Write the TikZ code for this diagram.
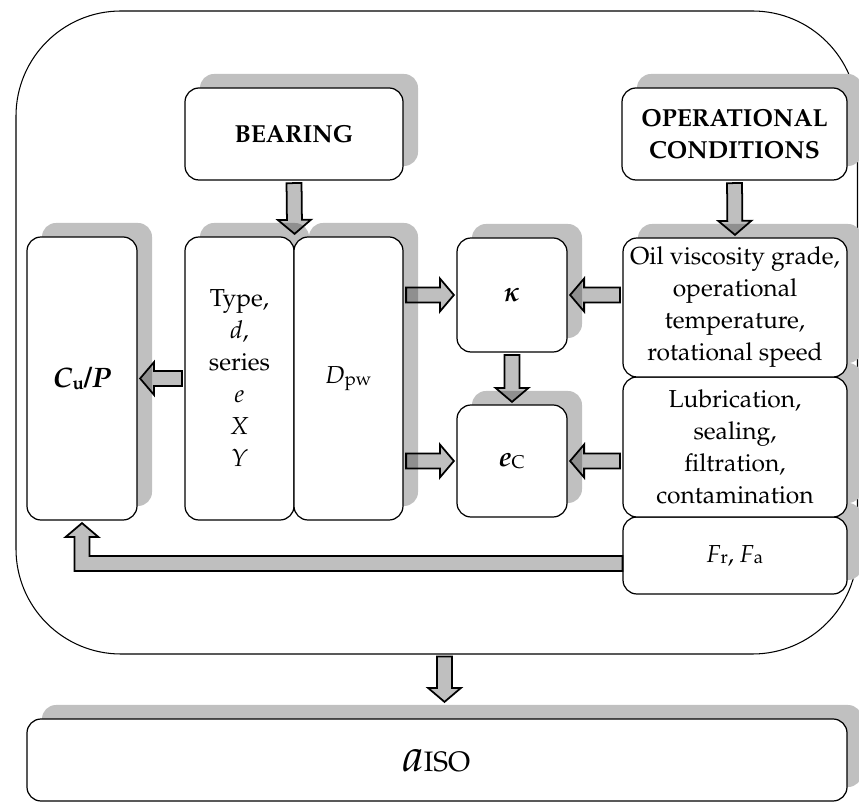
\documentclass[tikz,border=0pt]{standalone}
\usepackage[T1]{fontenc}
\usepackage{mathpazo}
\usepackage{bm}
\usetikzlibrary{calc,shadows}
\definecolor{Ink}{HTML}{000000}
\definecolor{ShadowGray}{HTML}{C0C0C0}
\newcommand{\bodyfont}{\fontsize{14}{18.2}\selectfont}
\newcommand{\lowsub}[1]{\raisebox{-1pt}{\fontsize{10.5}{11}\selectfont #1}}
\newcommand{\shaftw}{0.15cm}
\newcommand{\headw}{0.33cm}
\newcommand{\headl}{0.28cm}
\newcommand{\agap}{0.05cm}
\newcommand{\blockarrow}[2]{%
\coordinate (ba-a) at (#1);\coordinate (ba-b) at (#2);
\coordinate (ba-s) at ($(ba-a)!\agap!(ba-b)$);\coordinate (ba-t) at ($(ba-b)!\agap!(ba-a)$);
\coordinate (ba-h) at ($(ba-t)!\headl!(ba-s)$);
\draw[fatarrow] ($(ba-s)!\shaftw!90:(ba-t)$)--($(ba-h)!\shaftw!-90:(ba-s)$)--($(ba-h)!\headw!-90:(ba-s)$)--(ba-t)--($(ba-h)!\headw!90:(ba-s)$)--($(ba-h)!\shaftw!90:(ba-s)$)--($(ba-s)!\shaftw!-90:(ba-t)$)--cycle;}

\begin{document}
\begin{tikzpicture}[x=1cm,y=1cm,
box/.style={draw=Ink,fill=white,rounded corners=0.28cm,line width=0.7pt,align=center,inner sep=0pt,font=\bodyfont,general shadow={fill=ShadowGray,shadow xshift=0.3cm,shadow yshift=0.28cm}},
fatarrow/.style={draw=Ink,fill=black,fill opacity=0.25,line width=1pt,line join=miter}]
\fill[white] (0,0) rectangle (17.18,16.08);
\useasboundingbox (0,0) rectangle (17.18,16.08);
\draw[Ink,line width=0.6pt] (2.42,15.86) arc[start angle=90,end angle=180,radius=2.1] -- (0.32,5.1) arc[start angle=180,end angle=270,radius=2.1] -- (15.05,3.0) arc[start angle=270,end angle=360,radius=2.1] -- (17.15,13.76) arc[start angle=0,end angle=90,radius=2.1] -- cycle;
\coordinate (framebottom) at (8.735,3.0);
\node[box,minimum width=4.36cm,minimum height=1.84cm] (bearing) at (5.88,13.40) {\textbf{BEARING}};
\node[box,minimum width=4.50cm,minimum height=1.84cm] (oper) at (14.69,13.40) {\textbf{OPERATIONAL}\\\textbf{CONDITIONS}};
\node[box,minimum width=2.20cm,minimum height=5.66cm] (cup) at (1.64,8.51) {\fontsize{16}{18}\selectfont\textbf{\textit{C}}\lowsub{\textbf{u}}\textbf{/}\textbf{\textit{P}}};
\node[box,minimum width=2.18cm,minimum height=5.66cm] (type) at (4.79,8.51) {Type,\\\textit{d},\\series\\\textit{e}\\\textit{X}\\\textit{Y}};
\node[box,minimum width=2.18cm,minimum height=5.66cm] (dpw) at (6.97,8.51) {\textit{D}\lowsub{pw}};
\node[box,minimum width=2.20cm,minimum height=2.28cm] (kappa) at (10.24,10.18) {\fontsize{16}{18}\selectfont$\bm{\kappa}$};
\node[box,minimum width=2.20cm,minimum height=2.24cm] (ec) at (10.24,6.86) {\fontsize{16}{18}\selectfont\textbf{\textit{e}}\lowsub{C}};
\node[box,minimum width=4.48cm,minimum height=1.54cm] (fr) at (14.70,4.97) {\textit{F}\lowsub{r}, \textit{F}\lowsub{a}};
\node[box,minimum width=4.48cm,minimum height=2.80cm] (lub) at (14.70,7.14) {Lubrication,\\sealing,\\filtration,\\contamination};
\node[box,minimum width=4.48cm,minimum height=2.78cm] (oil) at (14.70,9.93) {Oil viscosity grade,\\operational\\temperature,\\rotational speed};
\node[box,minimum width=16.40cm,minimum height=1.64cm] (aiso) at (8.74,0.88) {{\fontsize{26}{26}\selectfont\textit{a}}{\fontsize{16}{18}\selectfont ISO}};
\blockarrow{bearing.south}{type.north east}
\blockarrow{oper.south}{oil.north}
\blockarrow{type.west}{cup.east |- type.west}
\blockarrow{dpw.east |- kappa.west}{kappa.west}
\blockarrow{dpw.east |- ec.west}{ec.west}
\blockarrow{oil.west |- kappa.east}{kappa.east}
\blockarrow{lub.west |- ec.east}{ec.east}
\blockarrow{kappa.south}{ec.north}
\coordinate (frin) at ($(fr.west)+(0,-0.16)$);
\draw[fatarrow] let \p1=(frin), \p2=(cup.south) in (\x1,\y1+\shaftw)--(\x2+\shaftw,\y1+\shaftw)--(\x2+\shaftw,\y2-\agap-\headl)--(\x2+\headw,\y2-\agap-\headl)--(\x2,\y2-\agap)--(\x2-\headw,\y2-\agap-\headl)--(\x2-\shaftw,\y2-\agap-\headl)--(\x2-\shaftw,\y1-\shaftw)--(\x1,\y1-\shaftw)--cycle;
\coordinate (aisoshadow) at ($(aiso.north)+(0.15,0.28)$);
\blockarrow{aisoshadow |- framebottom}{aisoshadow}
\end{tikzpicture}
\end{document}
